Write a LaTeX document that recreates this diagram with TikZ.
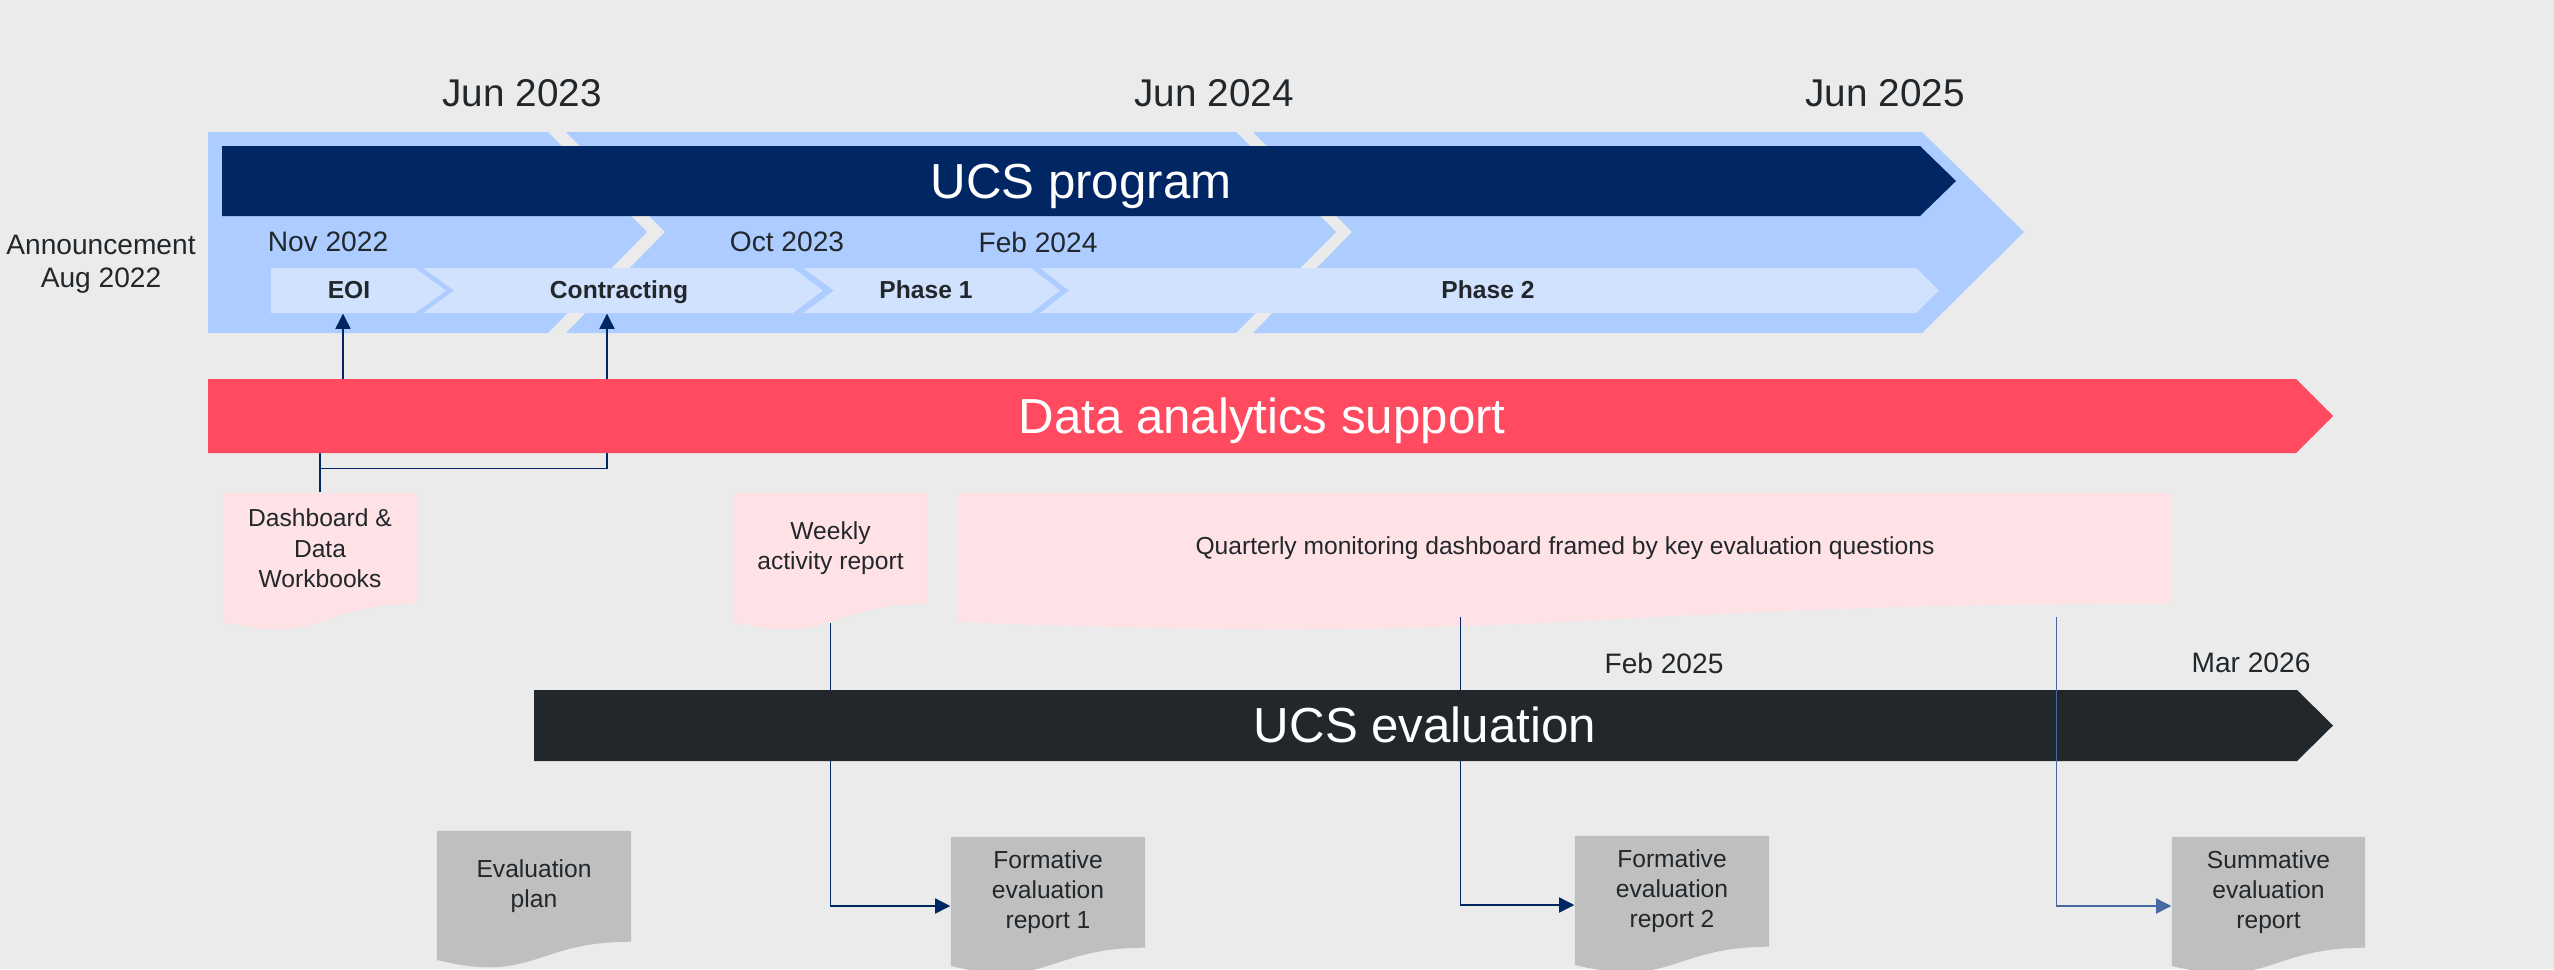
\documentclass[tikz,border=0pt]{standalone}
\usepackage{fontspec}
\setmainfont{Liberation Sans}
\usetikzlibrary{arrows.meta,calc}

\definecolor{bggray}{RGB}{235,235,235}
\definecolor{bandblue}{RGB}{173,204,255}
\definecolor{phaseblue}{RGB}{209,226,255}
\definecolor{navy}{RGB}{0,38,100}
\definecolor{redbar}{RGB}{255,74,96}
\definecolor{evalbar}{RGB}{34,39,43}
\definecolor{pinkdoc}{RGB}{255,226,230}
\definecolor{graydoc}{RGB}{191,191,191}
\definecolor{textdark}{RGB}{34,39,43}
\definecolor{connlight}{RGB}{70,105,160}

\tikzset{
  bartxt/.style={font=\fontsize{14}{16}\selectfont, text=white,
    text height=9pt, text depth=0pt},
  phaselbl/.style={font=\bfseries\fontsize{7}{8}\selectfont, text=textdark,
    text height=4.5pt, text depth=0pt, minimum height=0.45cm, inner sep=0pt},
  datelbl/.style={font=\fontsize{8}{9.4}\selectfont, text=textdark},
  yearlbl/.style={font=\fontsize{11}{13}\selectfont, text=textdark},
  doctxt/.style={font=\fontsize{7}{8.6}\selectfont, text=textdark,
    align=center, yshift=0.137cm},
  doc/.style={minimum height=1.38cm, inner sep=0pt,
    path picture={
      \fill[#1] let \p1=(path picture bounding box.north west),
                    \p2=(path picture bounding box.south east) in
        (\x1,\y1) -- (\x2,\y1) -- (\x2,{(\y1)+0.802*((\y2)-(\y1))})
        .. controls ({((\x1)+(\x2))/2},{(\y1)+0.802*((\y2)-(\y1))})
               and ({((\x1)+(\x2))/2},{(\y1)+1.1075*((\y2)-(\y1))})
        .. (\x1,{(\y1)+0.934*((\y2)-(\y1))}) -- cycle;
    }},
  conn/.style={draw=navy, line width=0.4pt,
    -{Triangle[length=4.3pt,width=4.3pt]}}
}

\begin{document}
\begin{tikzpicture}[x=0.01cm, y=-0.01cm]
  \useasboundingbox (0,0) rectangle (2554,969);
  \fill[bggray] (0,0) rectangle (2554,969);

  % program band
  \fill[bandblue] (208,132) -- (548,132) -- (647,232) -- (548,333) -- (208,333) -- cycle;
  \fill[bandblue] (566,132) -- (1236,132) -- (1336,232) -- (1236,333) -- (566,333) -- (665,232) -- cycle;
  \fill[bandblue] (1253,132) -- (1922,132) -- (2024,232) -- (1922,333) -- (1253,333) -- (1352,232) -- cycle;
  \fill[navy] (222,146) -- (1920,146) -- (1956,181) -- (1920,216) -- (222,216) -- cycle;
  \draw (1081,183) node (prog) [bartxt] {UCS program};

  % phases
  \fill[phaseblue] (271,268) -- (415,268) -- (446,290.5) -- (415,313) -- (271,313) -- cycle;
  \fill[phaseblue] (423,268) -- (793,268) -- (823,290.5) -- (793,313) -- (423,313) -- (454,290.5) -- cycle;
  \fill[phaseblue] (803,268) -- (1031,268) -- (1060,290.5) -- (1031,313) -- (803,313) -- (834,290.5) -- cycle;
  \fill[phaseblue] (1040,268) -- (1916,268) -- (1939,290.5) -- (1916,313) -- (1040,313) -- (1069,290.5) -- cycle;
  \draw (349,290.5)  node (eoi)   [phaselbl] {EOI};
  \draw (619,290.5)  node (contr) [phaselbl] {Contracting};
  \draw (926,290.5)  node (ph1)   [phaselbl] {Phase 1};
  \draw (1488,290.5) node (ph2)   [phaselbl] {Phase 2};

  % dates
  \draw (522,93)   node (jun23) [yearlbl] {Jun 2023};
  \draw (1214,93)  node (jun24) [yearlbl] {Jun 2024};
  \draw (1885,93)  node (jun25) [yearlbl] {Jun 2025};
  \draw (328,242)  node (nov22) [datelbl] {Nov 2022};
  \draw (787,242)  node (oct23) [datelbl] {Oct 2023};
  \draw (1038,242) node (feb24) [datelbl] {Feb 2024};
  \draw (101,264)  node (annc)  [datelbl, align=center] {Announcement\\Aug 2022};

  % outputs
  \draw (320,562)    node (dash)   [doc=pinkdoc, minimum width=1.94cm,
    label={[doctxt]center:{Dashboard \&\\Data\\Workbooks}}] {};
  \draw (830.5,562)  node (weekly) [doc=pinkdoc, minimum width=1.93cm,
    label={[doctxt]center:{Weekly\\activity report}}] {};
  \draw (1565,562)   node (quart)  [doc=pinkdoc, minimum width=12.14cm,
    label={[doctxt]center:{Quarterly monitoring dashboard framed by key evaluation questions}}] {};
  \draw (534,900)    node (plan)   [doc=graydoc, minimum width=1.94cm,
    label={[doctxt]center:{Evaluation\\plan}}] {};
  \draw (1048,906)   node (form1)  [doc=graydoc, minimum width=1.94cm,
    label={[doctxt]center:{Formative\\evaluation\\report 1}}] {};
  \draw (1672,905)   node (form2)  [doc=graydoc, minimum width=1.94cm,
    label={[doctxt]center:{Formative\\evaluation\\report 2}}] {};
  \draw (2268.5,906) node (summ)   [doc=graydoc, minimum width=1.93cm,
    label={[doctxt]center:{Summative\\evaluation\\report}}] {};

  \draw[conn] (dash.north) -- ++(0,-60) -| ($(eoi.south)+(-6,0)$);
  \draw[conn] (dash.north) -- ++(0,-24) -| ($(contr.south)+(-12,0)$);
  \draw[conn] ($(weekly.south)+(0,-9)$) |- (form1.west);
  \draw[conn] ($(quart.south west)!.414!(quart.south east)+(0,-15)$) |- (form2.west);

  % support and evaluation bars
  \fill[redbar] (208,379) -- (2296,379) -- (2333,416) -- (2296,453) -- (208,453) -- cycle;
  \draw (1262,418) node (data) [bartxt] {Data analytics support};
  \fill[evalbar] (534,690) -- (2297,690) -- (2333,725.5) -- (2297,761) -- (534,761) -- cycle;
  \draw (1425,727) node (eval) [bartxt] {UCS evaluation};

  \draw[conn, draw=connlight] ($(quart.south west)!.904!(quart.south east)+(0,-15)$) |- (summ.west);

  \draw (1664,663) node (feb25) [datelbl] {Feb 2025};
  \draw (2251,663) node (mar26) [datelbl] {Mar 2026};
\end{tikzpicture}
\end{document}
